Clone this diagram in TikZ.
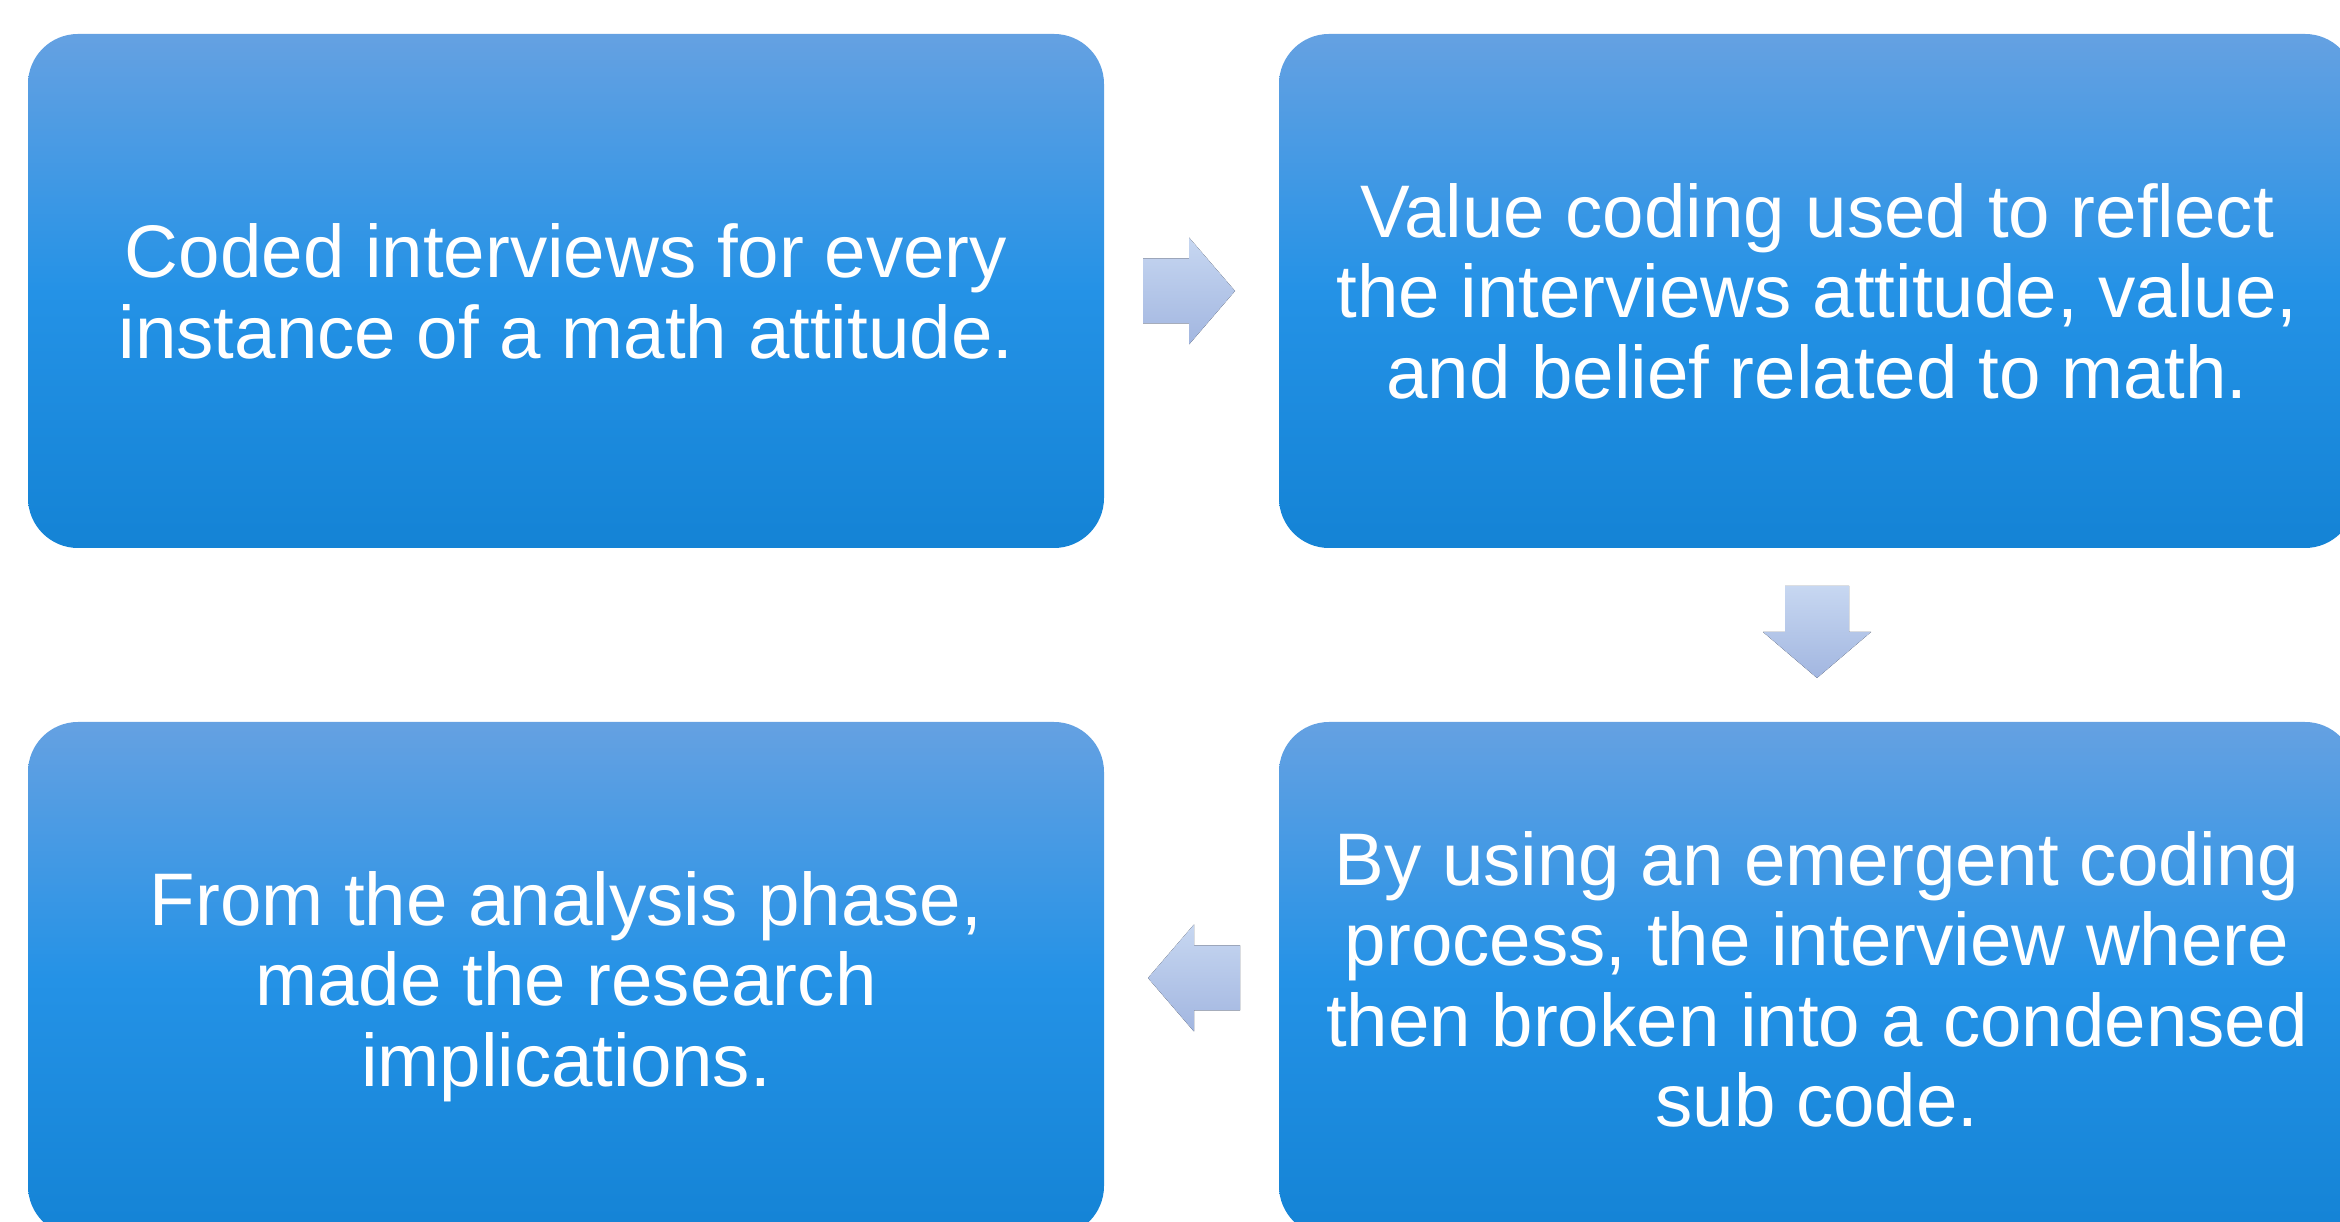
\documentclass[tikz,border=0pt]{standalone}
\usepackage{fontspec}
\setmainfont{Liberation Sans}

\definecolor{boxtop}{RGB}{101,161,226}
\definecolor{boxmid}{RGB}{36,146,230}
\definecolor{boxbot}{RGB}{20,131,213}
\definecolor{arrtop}{RGB}{199,215,241}
\definecolor{arrbot}{RGB}{162,182,224}

\begin{document}
\begin{tikzpicture}
  [stepbox/.style={rectangle,rounded corners=0.5cm,inner sep=0pt,
     minimum width=10.76cm,minimum height=5.14cm,text depth=0pt,
     top color=boxtop,bottom color=boxbot,middle color=boxmid,
     text=white,align=center,font=\fontsize{21.2}{22.8}\selectfont},
   flowarrow/.style={top color=arrtop,bottom color=arrbot}]
  \useasboundingbox (0,0) rectangle (23.40,-12.22);
  \clip (0,0) rectangle (23.40,-12.22);

  \node (s1)[stepbox] at (5.66,-2.91) {Coded interviews for every\\instance of a math attitude.};
  \node (s2)[stepbox] at (18.17,-2.91) {Value coding used to reflect\\the interviews attitude, value,\\and belief related to math.};
  \node (s3)[stepbox] at (18.17,-9.79) {By using an emergent coding\\process, the interview where\\then broken into a condensed\\sub code.};
  \node (s4)[stepbox] at (5.66,-9.79) {From the analysis phase,\\made the research\\implications.};

  % centres of the block arrows between the steps
  \coordinate (a12) at (11.89,-2.91);
  \coordinate (a23) at (18.17,-6.32);
  \coordinate (a34) at (11.94,-9.78);

  \fill[flowarrow,shift={(a12)}] (-0.46,0.325) -- (0,0.325) -- (0,0.535) -- (0.46,0)
    -- (0,-0.535) -- (0,-0.325) -- (-0.46,-0.325) -- cycle;
  \fill[flowarrow,shift={(a23)}] (-0.32,0.46) -- (0.32,0.46) -- (0.32,0) -- (0.54,0)
    -- (0,-0.46) -- (-0.54,0) -- (-0.32,0) -- cycle;
  \fill[flowarrow,shift={(a34)}] (0.46,0.325) -- (0,0.325) -- (0,0.535) -- (-0.46,0)
    -- (0,-0.535) -- (0,-0.325) -- (0.46,-0.325) -- cycle;

\end{tikzpicture}
\end{document}
